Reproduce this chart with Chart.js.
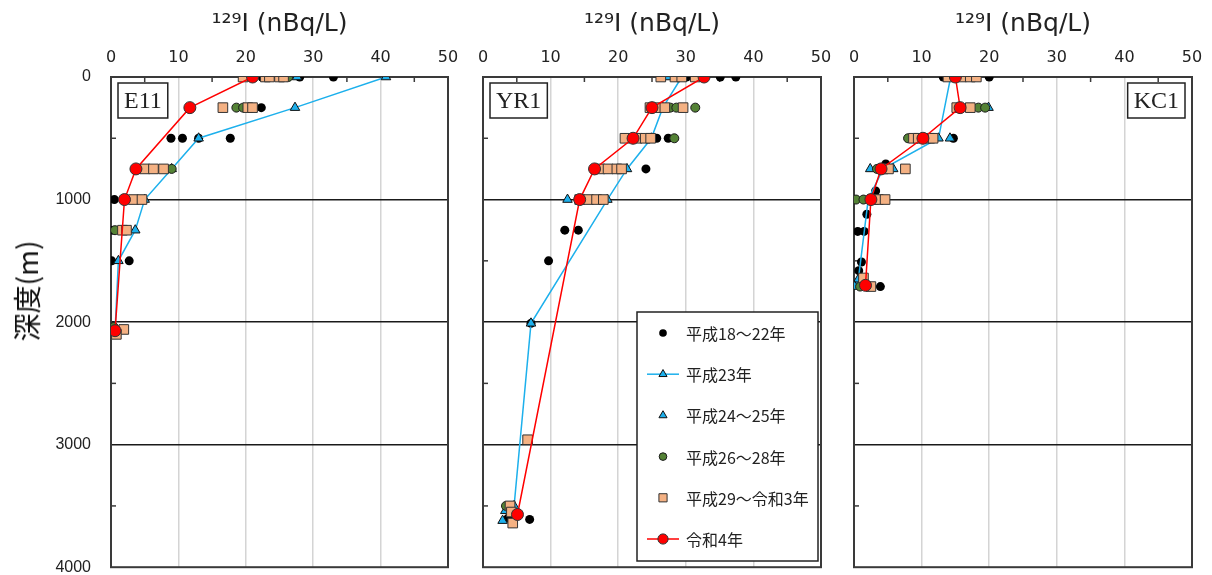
<!DOCTYPE html>
<html>
<head>
<meta charset="utf-8">
<script src="https://cdn.jsdelivr.net/npm/chart.js@4.4.0/dist/chart.umd.min.js"></script>
<style>
body { margin: 0; background: #fff; width: 1212px; height: 575px; overflow: hidden; position: relative; }
canvas { position: absolute; top: 0; }
#ytitle {
    position: absolute; left: 26px; top: 291px;
    transform: translate(-50%, -50%) rotate(-90deg);
    font-family: "Noto Sans CJK JP", sans-serif; font-size: 28px; color: #111; white-space: nowrap;
}
</style>
</head>
<body>
<canvas id="cE11" width="470" height="575" style="left:0"></canvas>
<canvas id="cYR1" width="370" height="575" style="left:466px"></canvas>
<canvas id="cKC1" width="374" height="575" style="left:838px"></canvas>
<div id="ytitle">深度(m)</div>
<script>
// series names (legend order)
const seriesLabels = ['平成18～22年', '平成23年', '平成24～25年', '平成26～28年', '平成29～令和3年', '令和4年'];

// axis ticks
const concTicks = [0, 10, 20, 30, 40, 50];
const concMinor = [5, 15, 25, 35, 45];
const depthTicks = [0, 1000, 2000, 3000, 4000];
const depthMinor = [500, 1500, 2500, 3500];

// E11
const e11H18Conc = [22.4, 28.0, 33.0, 22.3, 8.9, 10.6, 13.0, 17.7, 0.5, 0.3, 0.1, 2.7, 0.5];
const e11H18Depth = [0, 0, 0, 250, 500, 500, 500, 500, 1000, 1250, 1500, 1500, 2080];
const e11H23Conc = [40.8, 27.3, 13.0, 9.0, 5.0, 3.6, 1.1, 0.6];
const e11H23Depth = [0, 250, 500, 750, 1000, 1250, 1500, 2070];
const e11H24Conc = [27.6, 0.3];
const e11H24Depth = [0, 2050];
const e11H26Conc = [26.3, 18.6, 19.6, 9.0, 0.6, 0.4];
const e11H26Depth = [0, 250, 250, 750, 1250, 2040];
const e11H29Conc = [19.6, 22.9, 23.5, 25.0, 25.6, 16.6, 20.3, 21.0, 5.0, 6.3, 7.8, 3.3, 4.6, 1.7, 2.3, 1.9, 0.4, 0.8];
const e11H29Depth = [0, 0, 0, 0, 0, 250, 250, 250, 750, 750, 750, 1000, 1000, 1250, 1250, 2060, 2080, 2100];
const e11R4Conc = [21.0, 11.7, 3.7, 2.0, 0.6];
const e11R4Depth = [0, 250, 750, 1000, 2070];

// YR1
const yr1H18Conc = [30.1, 35.1, 37.4, 25.7, 27.4, 24.1, 12.1, 14.1, 9.7, 7.1, 6.9, 3.7];
const yr1H18Depth = [0, 0, 0, 500, 500, 750, 1250, 1250, 1500, 2010, 3610, 3600];
const yr1H23Conc = [29.4, 26.6, 24.9, 21.3, 18.4, 7.1, 4.6];
const yr1H23Depth = [0, 250, 500, 750, 1000, 2010, 3500];
const yr1H24Conc = [27.4, 12.5, 3.3, 2.9];
const yr1H24Depth = [0, 1000, 3540, 3620];
const yr1H26Conc = [27.7, 28.6, 31.4, 28.3, 3.4];
const yr1H26Depth = [250, 250, 250, 500, 3500];
const yr1H29Conc = [26.3, 28.4, 29.4, 31.4, 24.7, 25.6, 26.9, 29.6, 21.0, 22.8, 24.0, 24.8, 17.3, 18.5, 19.8, 20.5, 14.3, 15.6, 16.8, 17.8, 6.6, 4.0, 4.2, 4.4];
const yr1H29Depth = [0, 0, 0, 0, 250, 250, 250, 250, 500, 500, 500, 500, 750, 750, 750, 750, 1000, 1000, 1000, 1000, 2960, 3500, 3550, 3640];
const yr1R4Conc = [32.7, 25.0, 22.2, 16.5, 14.3, 5.1];
const yr1R4Depth = [0, 250, 500, 750, 1000, 3570];

// KC1
const kc1H18Conc = [13.2, 20.0, 14.7, 4.7, 3.2, 1.9, 0.55, 1.5, 1.1, 0.7, 3.9];
const kc1H18Depth = [0, 0, 500, 710, 930, 1120, 1260, 1260, 1510, 1580, 1710];
const kc1H23Conc = [14.3, 12.5, 4.3, 2.1, 0.65, 0.1];
const kc1H23Depth = [0, 500, 750, 1000, 1650, 1710];
const kc1H24Conc = [19.9, 14.2, 2.4, 5.8];
const kc1H24Depth = [250, 500, 750, 750];
const kc1H26Conc = [18.4, 19.4, 8.0, 3.4, 0.3, 1.4, 0.9];
const kc1H26Depth = [250, 250, 500, 750, 1000, 1000, 1710];
const kc1H29Conc = [13.9, 15.9, 17.2, 18.1, 15.2, 17.2, 8.8, 9.5, 11.2, 11.7, 4.3, 5.1, 7.6, 2.9, 3.6, 4.6, 1.4, 2.5];
const kc1H29Depth = [0, 0, 0, 0, 250, 250, 500, 500, 500, 500, 750, 750, 750, 1000, 1000, 1000, 1640, 1710];
const kc1R4Conc = [15.0, 15.7, 10.2, 4.0, 2.5, 1.7];
const kc1R4Depth = [0, 250, 500, 750, 1000, 1700];

// marker / line styles for each series
const seriesStyles = [
    { pointStyle: 'circle',   radius: 4.5, bg: '#000000', border: '#000000', bw: 0, line: null,      order: 5 },
    { pointStyle: 'triangle', radius: 5.5, bg: '#1DB0EC', border: '#111111', bw: 1, line: '#1DB0EC', order: 4 },
    { pointStyle: 'triangle', radius: 5.5, bg: '#1DB0EC', border: '#111111', bw: 1, line: null,      order: 3 },
    { pointStyle: 'circle',   radius: 4.5, bg: '#548235', border: '#1a1a1a', bw: 1, line: null,      order: 2 },
    { pointStyle: 'rect',     radius: 6.8, bg: '#F4B183', border: '#333333', bw: 1, line: null,      order: 1 },
    { pointStyle: 'circle',   radius: 6,   bg: '#FF0000', border: '#333333', bw: 1, line: '#FF0000', order: 0 }
];

function toPoints(conc, depth) {
    return conc.map((v, i) => ({ x: v, y: depth[i] }));
}

function buildDatasets(series) {
    return series.map(([conc, depth], i) => {
        const s = seriesStyles[i];
        return {
            label: seriesLabels[i],
            data: toPoints(conc, depth),
            showLine: !!s.line,
            borderColor: s.line || s.border,
            borderWidth: 1.5,
            pointStyle: s.pointStyle,
            pointRadius: s.radius,
            pointBackgroundColor: s.bg,
            pointBorderColor: s.border,
            pointBorderWidth: s.bw,
            order: s.order
        };
    });
}

// frame + small inside ticks
const framePlugin = {
    id: 'frame',
    beforeDatasetsDraw(chart) {
        const { ctx, chartArea: ca, scales } = chart;
        ctx.save();
        ctx.strokeStyle = '#3a3a3a';
        ctx.lineWidth = 1.5;
        depthMinor.forEach(v => {
            const y = scales.y.getPixelForValue(v);
            ctx.beginPath(); ctx.moveTo(ca.left, y); ctx.lineTo(ca.left + 5, y); ctx.stroke();
        });
        concMinor.forEach(v => {
            const x = scales.x.getPixelForValue(v);
            ctx.beginPath(); ctx.moveTo(x, ca.top); ctx.lineTo(x, ca.top + 5); ctx.stroke();
        });
        ctx.lineWidth = 2;
        ctx.strokeRect(ca.left, ca.top, ca.right - ca.left, ca.bottom - ca.top);
        ctx.restore();
    }
};

function drawMarker(ctx, style, x, y, r, fill, stroke, lw) {
    ctx.beginPath();
    if (style === 'circle') {
        ctx.arc(x, y, r, 0, Math.PI * 2);
    } else if (style === 'triangle') {
        for (let k = 0; k < 3; k++) {
            const a = k * 2 * Math.PI / 3;
            const px = x + Math.sin(a) * r, py = y - Math.cos(a) * r;
            k === 0 ? ctx.moveTo(px, py) : ctx.lineTo(px, py);
        }
        ctx.closePath();
    } else {
        const h = r * Math.SQRT1_2;
        ctx.rect(x - h, y - h, 2 * h, 2 * h);
    }
    ctx.fillStyle = fill;
    ctx.fill();
    if (lw > 0) { ctx.lineWidth = lw; ctx.strokeStyle = stroke; ctx.stroke(); }
}

// boxed well name
const namePlugin = {
    id: 'wellName',
    afterDatasetsDraw(chart, args, opts) {
        const { ctx, chartArea: ca } = chart;
        ctx.save();
        ctx.font = '24px "Liberation Serif", serif';
        const w = ctx.measureText(opts.text).width + 12;
        const h = 35;
        const x = opts.side === 'right' ? ca.right - 7 - w : ca.left + 7;
        const y = ca.top + 6;
        ctx.fillStyle = '#fff';
        ctx.fillRect(x, y, w, h);
        ctx.strokeStyle = '#222';
        ctx.lineWidth = 1.5;
        ctx.strokeRect(x, y, w, h);
        ctx.fillStyle = '#222';
        ctx.textBaseline = 'middle';
        ctx.textAlign = 'center';
        ctx.fillText(opts.text, x + w / 2, y + h / 2 + 1);
        ctx.restore();
    }
};

// legend box drawn inside the YR1 panel
const legendPlugin = {
    id: 'boxLegend',
    afterDatasetsDraw(chart, args, opts) {
        if (!opts.show) return;
        const { ctx, chartArea: ca } = chart;
        const left = ca.left + 154, right = ca.right - 3, top = 312, bottom = 561;
        ctx.save();
        ctx.fillStyle = '#fff';
        ctx.fillRect(left, top, right - left, bottom - top);
        ctx.strokeStyle = '#222';
        ctx.lineWidth = 1.5;
        ctx.strokeRect(left, top, right - left, bottom - top);
        ctx.font = '16px "Noto Sans CJK JP", sans-serif';
        ctx.textBaseline = 'middle';
        seriesLabels.forEach((label, i) => {
            const s = seriesStyles[i];
            const y = 333 + i * 41.2;
            const mx = left + 26;
            if (s.line) {
                ctx.strokeStyle = s.line;
                ctx.lineWidth = 1.5;
                ctx.beginPath(); ctx.moveTo(mx - 16, y); ctx.lineTo(mx + 16, y); ctx.stroke();
            }
            drawMarker(ctx, s.pointStyle, mx, y, s.radius * 0.85, s.bg, s.border, s.bw);
            ctx.fillStyle = '#222';
            ctx.fillText(label, left + 49, y + 1);
        });
        ctx.restore();
    }
};

function makePanel(canvasId, name, side, series, opts) {
    const pad = { top: 0, right: 10, bottom: 6, left: 0 };
    const chart = new Chart(document.getElementById(canvasId), {
        type: 'scatter',
        data: { datasets: buildDatasets(series) },
        plugins: [framePlugin, namePlugin, legendPlugin],
        options: {
            responsive: false,
            animation: false,
            layout: { padding: pad },
            plugins: {
                legend: { display: false },
                tooltip: { enabled: false },
                wellName: { text: name, side: side },
                boxLegend: { show: !!opts.legend }
            },
            scales: {
                x: {
                    type: 'linear',
                    position: 'top',
                    min: 0, max: 50,
                    afterBuildTicks: s => { s.ticks = concTicks.map(v => ({ value: v })); },
                    afterFit: s => { s.height = 77; s.paddingLeft = 0; s.paddingRight = 0; },
                    border: { display: false },
                    grid: {
                        drawTicks: false,
                        lineWidth: 1.5,
                        color: c => (c.tick.value === 0 || c.tick.value === 50) ? 'rgba(0,0,0,0)' : '#d4d4d4'
                    },
                    ticks: {
                        padding: 10,
                        color: '#222',
                        font: { family: '"DejaVu Sans", sans-serif', size: 16 }
                    },
                    title: {
                        display: true,
                        text: '¹²⁹I (nBq/L)',
                        color: '#222',
                        padding: { top: 9, bottom: 0 },
                        font: { family: '"DejaVu Sans", sans-serif', size: 25 }
                    }
                },
                y: {
                    type: 'linear',
                    reverse: true,
                    min: 0, max: 4000,
                    afterBuildTicks: s => { s.ticks = depthTicks.map(v => ({ value: v })); },
                    afterFit: s => { s.width = opts.yWidth; s.paddingTop = 0; s.paddingBottom = 0; },
                    border: { display: false },
                    grid: {
                        drawTicks: false,
                        lineWidth: 1.5,
                        color: c => (c.tick.value === 0 || c.tick.value === 4000) ? 'rgba(0,0,0,0)' : '#1a1a1a'
                    },
                    ticks: {
                        display: !!opts.yLabels,
                        padding: 20,
                        color: '#222',
                        callback: v => String(v),
                        font: { family: '"Liberation Sans", Arial, sans-serif', size: 16 }
                    }
                }
            }
        }
    });

    // nudge the layout padding until the plot area sits where the reference has it
    const target = opts.area;
    for (let k = 0; k < 5; k++) {
        const ca = chart.chartArea;
        const dr = ca.right - target.right;
        const db = ca.bottom - target.bottom;
        const dl = target.left - ca.left;
        if (Math.abs(dr) + Math.abs(db) + Math.abs(dl) < 0.5) break;
        pad.right += dr;
        pad.bottom += db;
        pad.left += dl;
        chart.update();
    }
    return chart;
}

makePanel('cE11', 'E11', 'left', [
    [e11H18Conc, e11H18Depth], [e11H23Conc, e11H23Depth], [e11H24Conc, e11H24Depth],
    [e11H26Conc, e11H26Depth], [e11H29Conc, e11H29Depth], [e11R4Conc, e11R4Depth]
], { yWidth: 111, yLabels: true, area: { left: 111, right: 448, bottom: 569 } });

makePanel('cYR1', 'YR1', 'left', [
    [yr1H18Conc, yr1H18Depth], [yr1H23Conc, yr1H23Depth], [yr1H24Conc, yr1H24Depth],
    [yr1H26Conc, yr1H26Depth], [yr1H29Conc, yr1H29Depth], [yr1R4Conc, yr1R4Depth]
], { yWidth: 17, legend: true, area: { left: 17, right: 355, bottom: 569 } });

makePanel('cKC1', 'KC1', 'right', [
    [kc1H18Conc, kc1H18Depth], [kc1H23Conc, kc1H23Depth], [kc1H24Conc, kc1H24Depth],
    [kc1H26Conc, kc1H26Depth], [kc1H29Conc, kc1H29Depth], [kc1R4Conc, kc1R4Depth]
], { yWidth: 16, area: { left: 16, right: 354, bottom: 569 } });
</script>
</body>
</html>
